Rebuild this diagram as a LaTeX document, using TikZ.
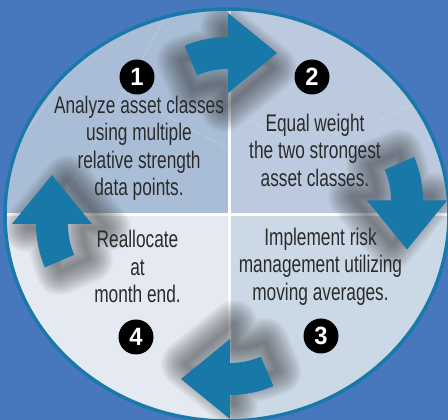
\documentclass[tikz,border=0pt]{standalone}
\usepackage{fontspec}
\setmainfont{Liberation Sans}[FakeStretch=0.72]
\newfontfamily\numfont{Liberation Sans}[FakeStretch=0.95]
\definecolor{bgblue}{HTML}{4778BD}
\definecolor{ringblue}{HTML}{1A79A9}
\definecolor{arrowblue}{HTML}{1878A8}
\definecolor{qtl}{HTML}{A9BED6}
\definecolor{qtr}{HTML}{BBCADE}
\definecolor{qbl}{HTML}{E4E9F2}
\definecolor{qbr}{HTML}{CBD8E5}
\definecolor{txtgray}{HTML}{2B2B2B}
\tikzset{
  cyc/.style={fill=arrowblue, draw=none},
  softshade/.style={draw=black!80, line join=round, draw opacity=0.026},
  numdot/.style={circle, fill=black, text=white, inner sep=0pt, minimum size=35pt,
    font=\numfont\bfseries\fontsize{25}{25}\selectfont},
  stepbody/.style={align=center, text=txtgray, inner sep=0pt,
    font=\fontsize{24}{27.5}\selectfont},
  divider/.style={white, line width=3pt},
  decor/.style={white, opacity=0.45, line width=0.5pt, dash pattern=on 1.5pt off 1.5pt}
}
\newcommand\cycshape[1]{\path[#1] (0,-40) -- (0,-16) arc[start angle=90,end angle=113,radius=79]
  -- ++(113:32) arc[start angle=113,end angle=90,radius=111] -- (0,40) -- (49,0) -- cycle;}
\newcommand\cycarrow{%
  \foreach \w in {2,4,...,48} {\cycshape{softshade, yshift=-15pt, xshift=-4pt, line width=\w pt}}%
  \cycshape{cyc}}
\begin{document}
\begin{tikzpicture}[x=1pt,y=1pt]
\fill[bgblue] (0,0) rectangle (448,420);
\useasboundingbox (0,0) rectangle (448,420);
\begin{scope}
  \clip (227,205) ellipse [x radius=222, y radius=206];
  \fill[qtl] (0,205) rectangle (229,420);
  \fill[qtr] (229,205) rectangle (448,420);
  \fill[qbl] (0,0) rectangle (229,205);
  \fill[qbr] (229,0) rectangle (448,205);
  % faint decorative lines
  \draw[decor] (10,265) -- (120,420);
  \draw[decor] (40,180) -- (175,420);
  \draw[decor] (120,330) -- (230,270);
  \draw[decor] (300,420) -- (420,350);
  \draw[decor] (250,300) -- (440,190);
  \draw[decor] (380,300) -- (445,330);
  \draw[decor] (270,140) -- (340,20);
  \draw[decor] (330,170) -- (420,20);
  \draw[decor] (20,150) -- (100,100);
  \draw[decor] (80,120) -- (180,20);
  \draw[decor] (120,150) -- (230,90);
  \draw[divider] (229,-10) -- (229,430);
  \draw[divider] (-10,205) -- (460,205);
  \begin{scope}[shift={(228,367)}] \cycarrow \end{scope}
  \begin{scope}[shift={(407,219.5)}, rotate=-90] \cycarrow \end{scope}
  \begin{scope}[shift={(230,41)}, rotate=180] \cycarrow \end{scope}
  \begin{scope}[shift={(52,196)}, rotate=90] \cycarrow \end{scope}
\end{scope}
\draw[ringblue, line width=3.5pt] (227,205) ellipse [x radius=222, y radius=206];
\node[numdot] (n1) at (137,343) {1};
\node[numdot] (n2) at (312,343) {2};
\node[numdot] (n3) at (321,84) {3};
\node[numdot] (n4) at (136,83) {4};
\node[stepbody] (t1) at (139,271.5) {Analyze asset classes\\using multiple\\relative strength\\data points.};
\node[stepbody] (t2) at (315,269.7) {Equal weight\\the two strongest\\asset classes.};
\node[stepbody] (t3) at (320.5,153.3) {Implement risk\\management utilizing\\moving averages.};
\node[stepbody] (t4) at (137.5,153.3) {Reallocate\\at\\month end.};
\end{tikzpicture}
\end{document}
